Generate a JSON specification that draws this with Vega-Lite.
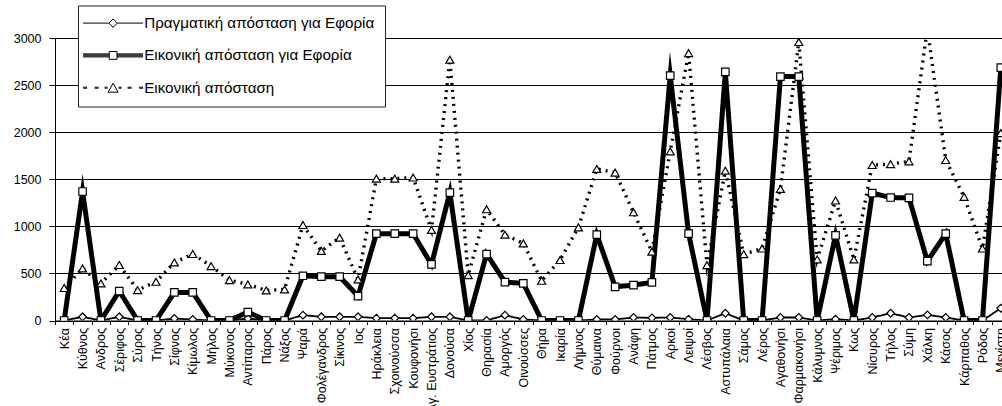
{
  "$schema": "https://vega.github.io/schema/vega-lite/v6.json",
  "autosize": {"type": "none"},
  "width": 947,
  "height": 282.5,
  "padding": {"left": 55, "top": 38, "right": 0, "bottom": 85.5},
  "background": "white",
  "config": {"font": "Liberation Sans", "view": {"stroke": null}},
  "data": {"values": [
    {"island": "Κέα", "Πραγματική απόσταση για Εφορία": 0, "Εικονική απόσταση για Εφορία": 0, "Εικονική απόσταση": 345},
    {"island": "Κύθνος", "Πραγματική απόσταση για Εφορία": 39, "Εικονική απόσταση για Εφορία": 1370, "Εικονική απόσταση": 553},
    {"island": "Ανδρος", "Πραγματική απόσταση για Εφορία": 0, "Εικονική απόσταση για Εφορία": 0, "Εικονική απόσταση": 394},
    {"island": "Σέριφος", "Πραγματική απόσταση για Εφορία": 39, "Εικονική απόσταση για Εφορία": 312, "Εικονική απόσταση": 589},
    {"island": "Σύρος", "Πραγματική απόσταση για Εφορία": 0, "Εικονική απόσταση για Εφορία": 0, "Εικονική απόσταση": 323},
    {"island": "Τήνος", "Πραγματική απόσταση για Εφορία": 0, "Εικονική απόσταση για Εφορία": 0, "Εικονική απόσταση": 411},
    {"island": "Σίφνος", "Πραγματική απόσταση για Εφορία": 21, "Εικονική απόσταση για Εφορία": 298, "Εικονική απόσταση": 617},
    {"island": "Κίμωλος", "Πραγματική απόσταση για Εφορία": 10, "Εικονική απόσταση για Εφορία": 298, "Εικονική απόσταση": 706},
    {"island": "Μήλος", "Πραγματική απόσταση για Εφορία": 0, "Εικονική απόσταση για Εφορία": 0, "Εικονική απόσταση": 578},
    {"island": "Μύκονος", "Πραγματική απόσταση για Εφορία": 0, "Εικονική απόσταση για Εφορία": 0, "Εικονική απόσταση": 429},
    {"island": "Αντίπαρος", "Πραγματική απόσταση για Εφορία": 21, "Εικονική απόσταση για Εφορία": 89, "Εικονική απόσταση": 383},
    {"island": "Πάρος", "Πραγματική απόσταση για Εφορία": 0, "Εικονική απόσταση για Εφορία": 0, "Εικονική απόσταση": 319},
    {"island": "Νάξος", "Πραγματική απόσταση για Εφορία": 0, "Εικονική απόσταση για Εφορία": 0, "Εικονική απόσταση": 330},
    {"island": "Ψαρά", "Πραγματική απόσταση για Εφορία": 57, "Εικονική απόσταση για Εφορία": 475, "Εικονική απόσταση": 1014},
    {"island": "Φολέγανδρος", "Πραγματική απόσταση για Εφορία": 39, "Εικονική απόσταση για Εφορία": 465, "Εικονική απόσταση": 738},
    {"island": "Σίκινος", "Πραγματική απόσταση για Εφορία": 39, "Εικονική απόσταση για Εφορία": 465, "Εικονική απόσταση": 880},
    {"island": "Ιος", "Πραγματική απόσταση για Εφορία": 39, "Εικονική απόσταση για Εφορία": 259, "Εικονική απόσταση": 436},
    {"island": "Ηράκλεια", "Πραγματική απόσταση για Εφορία": 25, "Εικονική απόσταση για Εφορία": 922, "Εικονική απόσταση": 1507},
    {"island": "Σχοινούσσα", "Πραγματική απόσταση για Εφορία": 25, "Εικονική απόσταση για Εφορία": 922, "Εικονική απόσταση": 1507},
    {"island": "Κουφονήσι", "Πραγματική απόσταση για Εφορία": 25, "Εικονική απόσταση για Εφορία": 922, "Εικονική απόσταση": 1518},
    {"island": "Αγ. Ευστράτιος", "Πραγματική απόσταση για Εφορία": 39, "Εικονική απόσταση για Εφορία": 596, "Εικονική απόσταση": 961},
    {"island": "Δονούσα", "Πραγματική απόσταση για Εφορία": 39, "Εικονική απόσταση για Εφορία": 1358, "Εικονική απόσταση": 2770},
    {"island": "Χίος", "Πραγματική απόσταση για Εφορία": 0, "Εικονική απόσταση για Εφορία": 0, "Εικονική απόσταση": 482},
    {"island": "Θηρασία", "Πραγματική απόσταση για Εφορία": 0, "Εικονική απόσταση για Εφορία": 706, "Εικονική απόσταση": 1181},
    {"island": "Αμοργός", "Πραγματική απόσταση για Εφορία": 57, "Εικονική απόσταση για Εφορία": 408, "Εικονική απόσταση": 911},
    {"island": "Οινούσσες", "Πραγματική απόσταση για Εφορία": 11, "Εικονική απόσταση για Εφορία": 394, "Εικονική απόσταση": 819},
    {"island": "Θήρα", "Πραγματική απόσταση για Εφορία": 0, "Εικονική απόσταση για Εφορία": 0, "Εικονική απόσταση": 422},
    {"island": "Ικαρία", "Πραγματική απόσταση για Εφορία": 0, "Εικονική απόσταση για Εφορία": 0, "Εικονική απόσταση": 642},
    {"island": "Λήμνος", "Πραγματική απόσταση για Εφορία": 0, "Εικονική απόσταση για Εφορία": 0, "Εικονική απόσταση": 989},
    {"island": "Θύμαινα", "Πραγματική απόσταση για Εφορία": 11, "Εικονική απόσταση για Εφορία": 911, "Εικονική απόσταση": 1610},
    {"island": "Φούρνοι", "Πραγματική απόσταση για Εφορία": 11, "Εικονική απόσταση για Εφορία": 358, "Εικονική απόσταση": 1571},
    {"island": "Ανάφη", "Πραγματική απόσταση για Εφορία": 32, "Εικονική απόσταση για Εφορία": 376, "Εικονική απόσταση": 1149},
    {"island": "Πάτμος", "Πραγματική απόσταση για Εφορία": 28, "Εικονική απόσταση για Εφορία": 404, "Εικονική απόσταση": 730},
    {"island": "Αρκοί", "Πραγματική απόσταση για Εφορία": 32, "Εικονική απόσταση για Εφορία": 2600, "Εικονική απόσταση": 1795},
    {"island": "Λειψοί", "Πραγματική απόσταση για Εφορία": 14, "Εικονική απόσταση για Εφορία": 922, "Εικονική απόσταση": 2840},
    {"island": "Λέσβος", "Πραγματική απόσταση για Εφορία": 0, "Εικονική απόσταση για Εφορία": 0, "Εικονική απόσταση": 588},
    {"island": "Αστυπάλαια", "Πραγματική απόσταση για Εφορία": 77, "Εικονική απόσταση για Εφορία": 2640, "Εικονική απόσταση": 1591},
    {"island": "Σάμος", "Πραγματική απόσταση για Εφορία": 0, "Εικονική απόσταση για Εφορία": 0, "Εικονική απόσταση": 704},
    {"island": "Λέρος", "Πραγματική απόσταση για Εφορία": 0, "Εικονική απόσταση για Εφορία": 0, "Εικονική απόσταση": 764},
    {"island": "Αγαθονήσι", "Πραγματική απόσταση για Εφορία": 32, "Εικονική απόσταση για Εφορία": 2590, "Εικονική απόσταση": 1397},
    {"island": "Φαρμακονήσι", "Πραγματική απόσταση για Εφορία": 32, "Εικονική απόσταση για Εφορία": 2590, "Εικονική απόσταση": 2957},
    {"island": "Κάλυμνος", "Πραγματική απόσταση για Εφορία": 0, "Εικονική απόσταση για Εφορία": 0, "Εικονική απόσταση": 648},
    {"island": "Ψέριμος", "Πραγματική απόσταση για Εφορία": 14, "Εικονική απόσταση για Εφορία": 905, "Εικονική απόσταση": 1274},
    {"island": "Κως", "Πραγματική απόσταση για Εφορία": 0, "Εικονική απόσταση για Εφορία": 0, "Εικονική απόσταση": 648},
    {"island": "Νίσυρος", "Πραγματική απόσταση για Εφορία": 32, "Εικονική απόσταση για Εφορία": 1352, "Εικονική απόσταση": 1651},
    {"island": "Τήλος", "Πραγματική απόσταση για Εφορία": 77, "Εικονική απόσταση για Εφορία": 1306, "Εικονική απόσταση": 1661},
    {"island": "Σύμη", "Πραγματική απόσταση για Εφορία": 32, "Εικονική απόσταση για Εφορία": 1302, "Εικονική απόσταση": 1690},
    {"island": "Χάλκη", "Πραγματική απόσταση για Εφορία": 60, "Εικονική απόσταση για Εφορία": 630, "Εικονική απόσταση": 3100},
    {"island": "Κάσος", "Πραγματική απόσταση για Εφορία": 32, "Εικονική απόσταση για Εφορία": 922, "Εικονική απόσταση": 1704},
    {"island": "Κάρπαθος", "Πραγματική απόσταση για Εφορία": 0, "Εικονική απόσταση για Εφορία": 0, "Εικονική απόσταση": 1312},
    {"island": "Ρόδος", "Πραγματική απόσταση για Εφορία": 0, "Εικονική απόσταση για Εφορία": 0, "Εικονική απόσταση": 764},
    {"island": "Μεγίστη", "Πραγματική απόσταση για Εφορία": 130, "Εικονική απόσταση για Εφορία": 2685, "Εικονική απόσταση": 1990}
  ]},
  "transform": [
    {"fold": ["Πραγματική απόσταση για Εφορία", "Εικονική απόσταση για Εφορία", "Εικονική απόσταση"], "as": ["series", "value"]}
  ],
  "encoding": {
    "x": {
      "field": "island", "type": "nominal", "sort": null, "title": null,
      "scale": {"type": "band", "paddingInner": 0, "paddingOuter": 0, "range": [0, 955]},
      "axis": {
        "labelAngle": 270, "labelFontSize": 12.5, "labelColor": "black", "labelPadding": 3,
        "labelOverlap": false, "labelBound": false, "labelLimit": 200,
        "tickBand": "extent", "tickSize": 4, "tickColor": "black",
        "domainColor": "black", "grid": false
      }
    },
    "y": {
      "field": "value", "type": "quantitative", "title": null,
      "scale": {"domain": [0, 3000], "nice": false, "zero": true},
      "axis": {
        "values": [0, 500, 1000, 1500, 2000, 2500, 3000], "format": "d",
        "labelFontSize": 12.5, "labelColor": "black", "labelPadding": 8,
        "tickSize": 6, "tickColor": "black", "domainColor": "black",
        "grid": true, "gridColor": "black", "gridWidth": 1
      }
    }
  },
  "resolve": {"scale": {"shape": "independent", "size": "independent"}, "legend": {"shape": "independent"}},
  "layer": [
    {
      "mark": {"type": "line", "clip": true, "stroke": "black", "strokeJoin": "miter", "strokeMiterLimit": 10},
      "encoding": {
        "strokeWidth": {
          "field": "series", "type": "ordinal", "legend": null,
          "scale": {"domain": ["Εικονική απόσταση για Εφορία", "Εικονική απόσταση", "Πραγματική απόσταση για Εφορία"], "range": [5, 1.8, 1]}
        },
        "strokeDash": {
          "field": "series", "type": "nominal", "legend": null,
          "scale": {"domain": ["Πραγματική απόσταση για Εφορία", "Εικονική απόσταση", "Εικονική απόσταση για Εφορία"], "range": [[1, 0], [2, 5], [1, 0]]}
        }
      }
    },
    {
      "mark": {"type": "point", "clip": true, "filled": true, "fill": "white", "stroke": "black", "strokeWidth": 1.2, "opacity": 1},
      "encoding": {
        "size": {
          "field": "series", "type": "ordinal", "legend": null,
          "scale": {"domain": ["Εικονική απόσταση για Εφορία", "Πραγματική απόσταση για Εφορία", "Εικονική απόσταση"], "range": [56, 64, 100]}
        },
        "shape": {
          "field": "series", "type": "nominal", "legend": null,
          "scale": {"domain": ["Εικονική απόσταση", "Πραγματική απόσταση για Εφορία", "Εικονική απόσταση για Εφορία"], "range": ["triangle-up", "diamond", "square"]}
        }
      }
    },
    {
      "mark": {"type": "point", "clip": true, "filled": false, "opacity": 0},
      "encoding": {
        "shape": {
          "field": "series", "type": "nominal",
          "scale": {
            "domain": ["Πραγματική απόσταση για Εφορία", "Εικονική απόσταση για Εφορία", "Εικονική απόσταση"],
            "range": [
              "M-6,0H-0.84M0.84,0H6M0,-0.84L0.84,0L0,0.84L-0.84,0Z",
              "M-6,-0.3H-0.78M0.78,-0.3H6M-6,-0.1H-0.78M0.78,-0.1H6M-6,0.1H-0.78M0.78,0.1H6M-6,0.3H-0.78M0.78,0.3H6M-0.78,-0.78H0.78V0.78H-0.78Z",
              "M-6,-0.1H-5.2M-6,0.1H-5.2M-3.7,-0.1H-2.9M-3.7,0.1H-2.9M-1.7,-0.1H-1.1M-1.7,0.1H-1.1M1.1,-0.1H1.7M1.1,0.1H1.7M2.9,-0.1H3.7M2.9,0.1H3.7M5.2,-0.1H6M5.2,0.1H6M0,-0.9L1,0.9L-1,0.9Z"
            ]
          },
          "legend": {
            "title": null, "orient": "none", "legendX": 23, "legendY": -32.5, "direction": "vertical",
            "fillColor": "white", "strokeColor": "#222", "padding": 10,
            "symbolSize": 100, "rowPadding": 16.3,
            "symbolOffset": 17.5, "labelOffset": 23.5,
            "labelFont": "Liberation Sans", "labelFontSize": 15.2, "labelColor": "black", "labelLimit": 400,
            "symbolOpacity": 1, "symbolFillColor": "white", "symbolStrokeColor": "black", "symbolStrokeWidth": 1
          }
        }
      }
    }
  ]
}
